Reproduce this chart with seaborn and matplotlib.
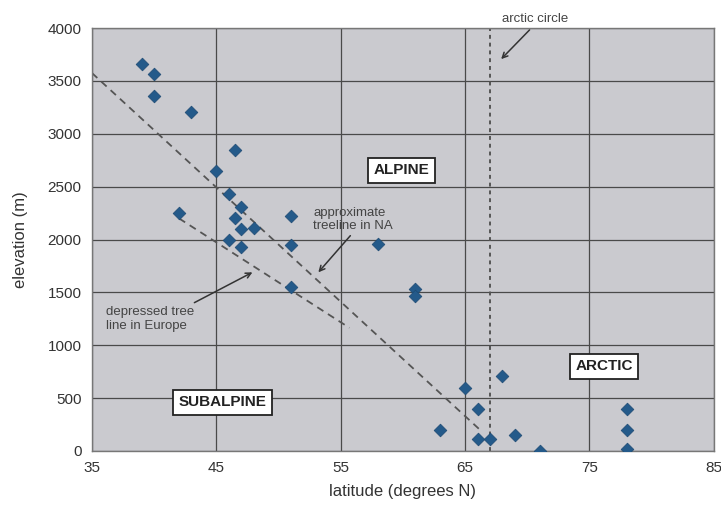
import matplotlib
matplotlib.use('Agg')
import matplotlib.pyplot as plt
import seaborn as sns
import pandas as pd

# treeline sites
latitude = [39, 40, 40, 43, 46.5, 45, 46, 47, 42, 46.5, 47, 48, 51,
            46, 47, 51, 58, 51, 61, 61, 65, 68, 66, 63, 66, 67, 69, 71,
            78, 78, 78]
elevation = [3660, 3570, 3360, 3210, 2850, 2650, 2430, 2310, 2250, 2200, 2100, 2110, 2220,
             2000, 1930, 1950, 1960, 1550, 1530, 1470, 600, 710, 400, 200, 110, 110, 150, 0,
             400, 200, 20]

# dashed treelines (endpoints)
na_line_x = [35, 66.2]
na_line_y = [3575, 200]
eu_line_x = [42, 55.7]
eu_line_y = [2200, 1165]
arctic_circle = 67

x_ticks = [35, 45, 55, 65, 75, 85]
y_ticks = [0, 500, 1000, 1500, 2000, 2500, 3000, 3500, 4000]

df = pd.DataFrame({'latitude': latitude, 'elevation': elevation})

sns.set_style('white')
plt.rcParams['font.family'] = ['Liberation Sans', 'DejaVu Sans']

fig = plt.figure(figsize=(7.21, 5.21), dpi=100)
ax = fig.add_axes([0.1276, 0.1344, 0.8624, 0.8116])
ax.set_facecolor('#cacacf')

ax.set_xlim(35, 85)
ax.set_ylim(0, 4000)
ax.set_xticks(x_ticks)
ax.set_yticks(y_ticks)
ax.grid(True, color='#4a4a4a', linewidth=0.9)
ax.set_axisbelow(True)
for s in ax.spines.values():
    s.set_color('#777777')
    s.set_linewidth(1.0)
ax.tick_params(axis='both', colors='#333333', labelsize=11, length=4, width=0.8,
               direction='out')

ax.plot(na_line_x, na_line_y, linestyle=(0, (4, 3)), color='#555555', linewidth=1.3)
ax.plot(eu_line_x, eu_line_y, linestyle=(0, (4, 3)), color='#555555', linewidth=1.3)
ax.axvline(arctic_circle, linestyle=(0, (2, 2)), color='#555555', linewidth=1.4)

sns.scatterplot(data=df, x='latitude', y='elevation', marker='D', s=42,
                color='#245a8a', edgecolor='#1d4a73', linewidth=0.5, ax=ax, zorder=5)

ax.set_xlabel('latitude (degrees N)', fontsize=12, color='#333333', labelpad=6)
ax.set_ylabel('elevation (m)', fontsize=12, color='#333333', labelpad=14)

box = dict(boxstyle='square,pad=0.35', facecolor='white', edgecolor='#222222', linewidth=1.3)
ax.text(59.9, 2655, 'ALPINE', ha='center', va='center', fontsize=11, fontweight='bold',
        color='#222222', bbox=box)
ax.text(76.2, 800, 'ARCTIC', ha='center', va='center', fontsize=11, fontweight='bold',
        color='#222222', bbox=box)
ax.text(45.5, 460, 'SUBALPINE', ha='center', va='center', fontsize=11, fontweight='bold',
        color='#222222', bbox=box)

ax.annotate('approximate\ntreeline in NA', xy=(53.2, 1690), xytext=(52.8, 2190),
            ha='left', va='center', fontsize=9.5, color='#444444', linespacing=1.2,
            arrowprops=dict(arrowstyle='->', color='#333333', lw=1.1,
                            shrinkA=0, shrinkB=0, relpos=(0.5, 0)),
            zorder=6)
ax.annotate('depressed tree\nline in Europe', xy=(47.9, 1690), xytext=(36.1, 1250),
            ha='left', va='center', fontsize=9.5, color='#444444', linespacing=1.2,
            arrowprops=dict(arrowstyle='->', color='#333333', lw=1.1,
                            shrinkA=0, shrinkB=0, relpos=(0.85, 0.85)),
            zorder=6)
ax.annotate('arctic circle', xy=(67.9, 3707), xytext=(70.6, 4090),
            ha='center', va='center', fontsize=9.5, color='#444444',
            annotation_clip=False,
            arrowprops=dict(arrowstyle='->', color='#333333', lw=1.1,
                            shrinkA=2, shrinkB=0, relpos=(0.5, 0)),
            zorder=6)

fig.savefig('out.png', dpi=100)
